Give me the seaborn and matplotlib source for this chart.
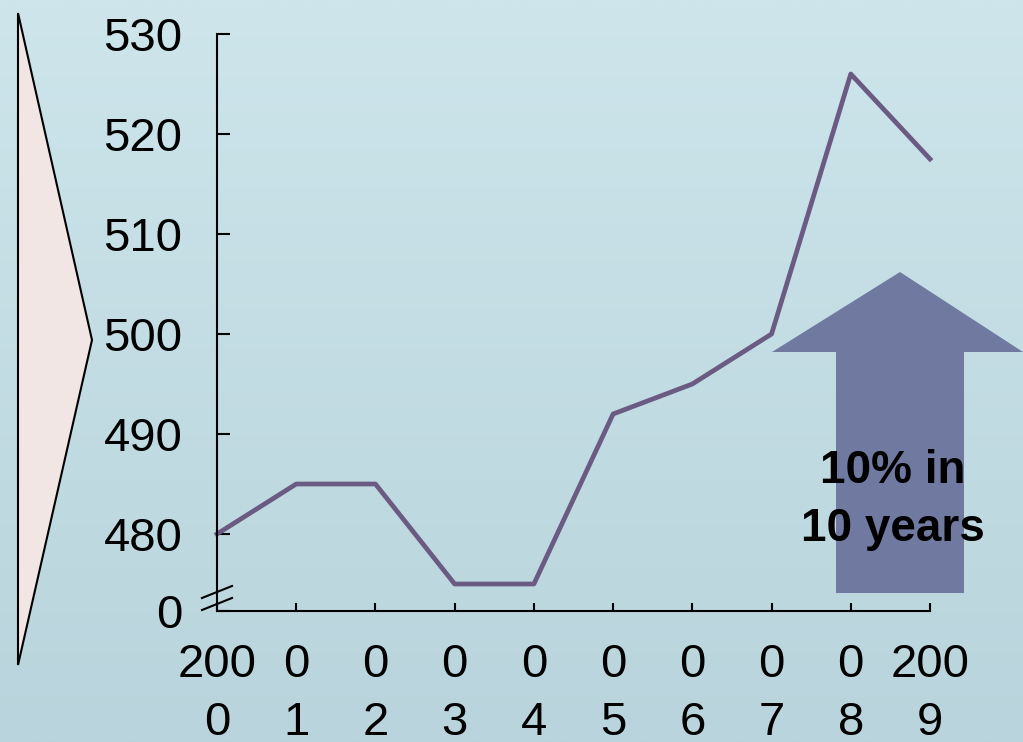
import numpy as np
import pandas as pd
import seaborn as sns
import matplotlib.pyplot as plt
from matplotlib.patches import Polygon

years = [2000, 2001, 2002, 2003, 2004, 2005, 2006, 2007, 2008, 2009]
score = [480, 485, 485, 475, 475, 492, 495, 500, 526, 517.5]
year_labels = ['200\n0', '0\n1', '0\n2', '0\n3', '0\n4', '0\n5', '0\n6', '0\n7', '0\n8', '200\n9']
y_ticks = [480, 490, 500, 510, 520, 530]
y_base = 472.3   # where the broken axis shows "0"

plt.rcParams['font.family'] = ['Liberation Sans', 'DejaVu Sans']

W, H = 1023, 742
fig = plt.figure(figsize=(W / 100, H / 100), dpi=100)

def fx(x):
    return x / W

def fy(y):
    return 1 - y / H

# gradient background
bg = fig.add_axes([0, 0, 1, 1], zorder=0)
top = np.array([205, 229, 235]) / 255
bot = np.array([185, 212, 220]) / 255
t = np.linspace(0, 1, 256)[:, None, None]
grad = top * (1 - t) + bot * t
bg.imshow(np.repeat(grad, 2, axis=1), aspect='auto', extent=[0, 1, 0, 1])
bg.axis('off')

ax = fig.add_axes([fx(217), fy(611), fx(930) - fx(217), fy(34) - fy(611)], zorder=2)
ax.set_facecolor('none')

df = pd.DataFrame({'year': years, 'score': score})
sns.lineplot(data=df, x='year', y='score', ax=ax, color='#6b5a82', linewidth=3.4)
for ln in ax.lines:
    ln.set_clip_on(False)

ax.set_xlim(years[0], years[-1])
ax.set_ylim(y_base, 530)
ax.set_xticks(years)
ax.set_xticklabels(year_labels, fontsize=34, linespacing=1.42)
ax.set_yticks([y_base] + y_ticks)
ax.set_yticklabels(['0'] + [str(v) for v in y_ticks], fontsize=34)
ax.set_xlabel('')
ax.set_ylabel('')
for s in ['top', 'right']:
    ax.spines[s].set_visible(False)
for s in ['left', 'bottom']:
    ax.spines[s].set_linewidth(1.5)
    ax.spines[s].set_color('black')
ax.tick_params(axis='y', direction='in', length=9, width=1.5, pad=25)
ax.tick_params(axis='x', direction='in', length=6, width=1.5, pad=23)

# axis break marks
for yy in [590, 602]:
    fig.add_artist(plt.Line2D([fx(202), fx(232)], [fy(yy + 8), fy(yy - 4)],
                              color='black', lw=1.5, zorder=3))

# left pink triangle
tri = Polygon([(fx(18), fy(13)), (fx(92), fy(340)), (fx(18), fy(665))],
              closed=True, facecolor='#f2e6e4', edgecolor='black', lw=1.5,
              transform=fig.transFigure, zorder=1)
fig.add_artist(tri)

# up arrow
arrow = Polygon([(fx(836), fy(593)), (fx(836), fy(352)), (fx(772), fy(352)),
                 (fx(900), fy(272)), (fx(1023), fy(352)), (fx(964), fy(352)),
                 (fx(964), fy(593))],
                closed=True, facecolor='#707aa1', edgecolor='none',
                transform=fig.transFigure, zorder=1)
fig.add_artist(arrow)
fig.text(fx(893), fy(500), '10% in\n10 years', ha='center', va='center',
         fontsize=33, fontweight='bold', linespacing=1.42, zorder=4)

fig.savefig('out.png', dpi=100)
